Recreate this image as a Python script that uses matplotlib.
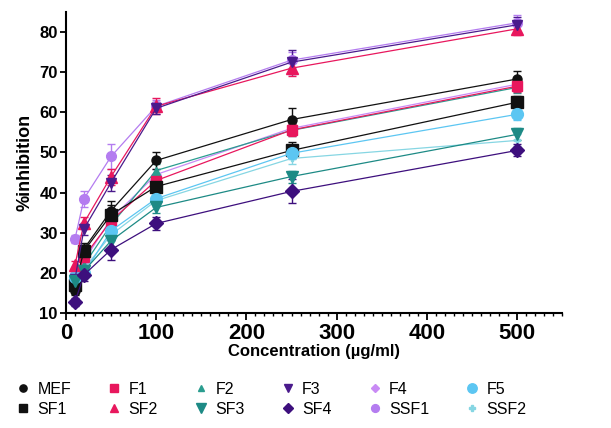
import matplotlib
matplotlib.use('Agg')
import matplotlib.pyplot as plt
from matplotlib.ticker import MultipleLocator

plt.rcParams['font.family'] = ['Liberation Sans', 'DejaVu Sans']

conc = [10, 20, 50, 100, 250, 500]

MEF = [15.5, 26.0, 35.5, 48.0, 58.2, 68.3]
F1 = [17.5, 24.0, 33.0, 43.0, 55.6, 66.5]
F2 = [19.0, 22.0, 32.0, 45.5, 55.5, 66.2]
F3 = [18.5, 31.0, 42.5, 61.0, 72.5, 81.8]
F4 = [20.0, 23.0, 33.5, 44.5, 56.0, 67.0]
F5 = [19.0, 20.0, 30.5, 38.5, 49.8, 59.5]
SF1 = [17.0, 25.5, 34.5, 41.5, 50.5, 62.5]
SF2 = [22.0, 32.5, 44.0, 61.5, 71.0, 80.8]
SF3 = [18.0, 20.5, 28.0, 36.3, 44.0, 54.5]
SF4 = [12.8, 19.5, 25.8, 32.3, 40.3, 50.5]
SSF1 = [28.5, 38.5, 49.0, 61.5, 73.0, 82.3]
SSF2 = [20.0, 21.0, 29.5, 38.0, 48.5, 53.0]

MEF_err = [1.0, 1.5, 2.5, 2.0, 3.0, 2.0]
F1_err = [1.0, 1.5, 2.0, 1.5, 1.5, 1.5]
F2_err = [1.0, 1.0, 1.5, 1.5, 1.5, 1.5]
F3_err = [1.0, 1.5, 2.0, 1.5, 3.0, 2.0]
F4_err = [1.0, 1.0, 1.5, 1.5, 1.5, 1.5]
F5_err = [1.0, 1.0, 1.5, 1.5, 1.5, 1.5]
SF1_err = [1.0, 1.5, 2.5, 1.5, 2.0, 1.5]
SF2_err = [1.0, 1.5, 2.0, 2.0, 2.0, 1.5]
SF3_err = [1.0, 1.0, 2.0, 1.5, 1.5, 1.5]
SF4_err = [1.0, 1.5, 2.5, 1.5, 3.0, 1.5]
SSF1_err = [1.0, 2.0, 3.0, 1.5, 2.0, 2.0]
SSF2_err = [1.0, 1.0, 1.5, 1.5, 1.5, 1.5]

# name, values, errors, colour, marker, marker size (in drawing order)
series = [
    ('SSF1', SSF1, SSF1_err, '#b47cf0', 'o', 7),
    ('F4', F4, F4_err, '#c98bf5', 'D', 5),
    ('F2', F2, F2_err, '#2a9d8f', '^', 6),
    ('SSF2', SSF2, SSF2_err, '#86d6e3', 'P', 5),
    ('MEF', MEF, MEF_err, '#111111', 'o', 6.5),
    ('F1', F1, F1_err, '#e8175d', 's', 6.5),
    ('SF1', SF1, SF1_err, '#111111', 's', 8),
    ('F5', F5, F5_err, '#5cc6f2', 'o', 8.5),
    ('SF2', SF2, SF2_err, '#e8175d', '^', 8),
    ('F3', F3, F3_err, '#4a1a8c', 'v', 7),
    ('SF3', SF3, SF3_err, '#1d8a85', 'v', 9),
    ('SF4', SF4, SF4_err, '#3d0f7d', 'D', 7),
]

fig = plt.figure(figsize=(6.11, 4.28), dpi=100)
ax = fig.add_axes([0.108, 0.2687, 0.812, 0.7033])

handles = {}
for name, vals, err, col, mk, ms in series:
    eb = ax.errorbar(conc, vals, yerr=err, color=col, marker=mk, markersize=ms,
                     linewidth=0.9, elinewidth=1.0, capsize=3, capthick=1.0,
                     label=name)
    handles[name] = eb[0]

ax.set_xlim(0, 550)
ax.set_ylim(10, 85)
ax.xaxis.set_major_locator(MultipleLocator(100))
ax.xaxis.set_minor_locator(MultipleLocator(10))
ax.yaxis.set_major_locator(MultipleLocator(10))

for s in ['top', 'right']:
    ax.spines[s].set_visible(False)
for s in ['left', 'bottom']:
    ax.spines[s].set_linewidth(1.5)

ax.tick_params(axis='x', which='major', length=5, width=1.3, labelsize=16, pad=2)
ax.tick_params(axis='x', which='minor', length=2.5, width=1.0)
ax.tick_params(axis='y', which='major', length=4, width=1.3, labelsize=12, pad=2)
for lab in ax.get_xticklabels() + ax.get_yticklabels():
    lab.set_fontweight('bold')

ax.set_ylabel('%inhibition', fontsize=13, fontweight='bold', labelpad=4)
ax.set_xlabel('Concentration (µg/ml)', fontsize=12, fontweight='bold', labelpad=0)

# legend: two rows, filled column-wise
top_row = ['MEF', 'F1', 'F2', 'F3', 'F4', 'F5']
bot_row = ['SF1', 'SF2', 'SF3', 'SF4', 'SSF1', 'SSF2']
order = [n for pair in zip(top_row, bot_row) for n in pair]
leg_handles = []
for n in order:
    h = handles[n]
    proxy = plt.Line2D([], [], linestyle='none', marker=h.get_marker(),
                       color=h.get_color(), markersize=h.get_markersize() * 0.8)
    leg_handles.append(proxy)
fig.legend(leg_handles, order, ncol=6, loc='upper left',
           bbox_to_anchor=(0.027, 0.108), frameon=False, fontsize=11.5,
           handlelength=0.8, handletextpad=0.5, columnspacing=2.3,
           labelspacing=0.3, borderpad=0, borderaxespad=0)

fig.savefig('out.png', dpi=100, facecolor='white')
